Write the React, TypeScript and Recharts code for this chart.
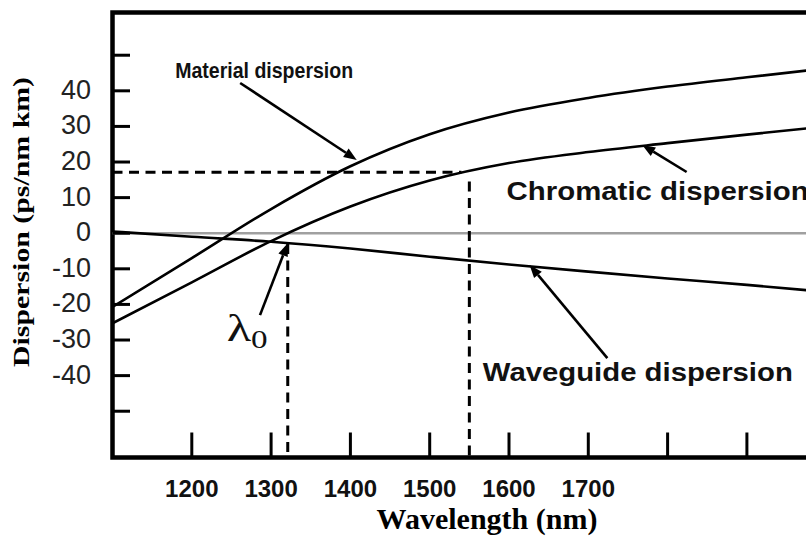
import React from "react";
import {
  LineChart,
  Line,
  XAxis,
  YAxis,
  ReferenceLine,
  ReferenceArea,
  ReferenceDot,
} from "recharts";

// values
const wavelengths = [1100, 1200, 1300, 1400, 1500, 1600, 1700, 1800, 1900, 2000];
const material = [-20.7, -7.0, 6.8, 18.8, 27.8, 33.9, 38.0, 41.2, 43.8, 46.3];
const chromatic = [-25.3, -13.8, -2.2, 7.5, 14.8, 19.7, 22.8, 25.3, 27.7, 30.0];
const waveguide = [0.5, -1.0, -2.4, -4.3, -6.6, -8.8, -10.8, -12.7, -14.5, -16.5];

const xTicks = [1200, 1300, 1400, 1500, 1600, 1700, 1800, 1900];
const xLabels = [1200, 1300, 1400, 1500, 1600, 1700];
const yTicks = [-50, -40, -30, -20, -10, 0, 10, 20, 30, 40, 50];
const yLabels = [-40, -30, -20, -10, 0, 10, 20, 30, 40];

const lambda0 = 1321;
const lambdaOp = 1550;
const dispOp = 17.1;

const data = wavelengths.map((wl, i) => ({
  wl,
  material: material[i],
  chromatic: chromatic[i],
  waveguide: waveguide[i],
}));

const SANS = "'Liberation Sans', Arial, sans-serif";
const SERIF = "'Liberation Serif', 'Times New Roman', serif";

// annotation text anchors and arrows, in data coordinates
const notes = [
  { text: "Material dispersion", at: [1179, 43.6], size: 21.5, len: 178, tail: [1261, 42.2], tip: [1408, 20.6] },
  { text: "Chromatic dispersion", at: [1597, 9.3], size: 25, len: 302, tail: [1824, 17.2], tip: [1768, 24.8] },
  { text: "Waveguide dispersion", at: [1567, -41.5], size: 25, len: 310, tail: [1724, -35.1], tip: [1626, -8.9] },
];
const lambdaNote = { at: [1244, -30.3], tail: [1286, -23], tip: [lambda0, -2.8] };

const XTick = (props: any) => {
  const { x, y, payload } = props;
  const v = payload.value;
  return (
    <g>
      <line x1={x} y1={y} x2={x} y2={y - 25} stroke="#000" strokeWidth={3} />
      {xLabels.includes(v) && (
        <text x={x} y={y + 39.5} textAnchor="middle" fontFamily={SANS} fontWeight="bold" fontSize={24} fill="#111">
          {v}
        </text>
      )}
    </g>
  );
};

const YTick = (props: any) => {
  const { x, y, payload } = props;
  const v = payload.value;
  return (
    <g>
      <line x1={x} y1={y} x2={x + 17.5} y2={y} stroke="#000" strokeWidth={3} />
      {yLabels.includes(v) && (
        <text x={x - 21.5} y={y + 8} textAnchor="end" fontFamily={SANS} fontSize={27} fill="#222">
          {v}
        </text>
      )}
    </g>
  );
};

const Arrow = (p: any) => {
  const { x1, y1, x2, y2 } = p;
  const a = Math.atan2(y2 - y1, x2 - x1);
  const L = 13;
  const W = 5;
  const bx = x2 - L * Math.cos(a);
  const by = y2 - L * Math.sin(a);
  const pts = `${x2},${y2} ${bx - W * Math.sin(a)},${by + W * Math.cos(a)} ${bx + W * Math.sin(a)},${by - W * Math.cos(a)}`;
  return (
    <g>
      <line x1={x1} y1={y1} x2={bx} y2={by} stroke="#000" strokeWidth={2.6} />
      <polygon points={pts} fill="#000" />
    </g>
  );
};

const noteText = (text: string, size: number, len: number) => (p: any) => (
  <text
    x={p.cx}
    y={p.cy}
    fontFamily={SANS}
    fontWeight="bold"
    fontSize={size}
    fill="#111"
    textLength={len}
    lengthAdjust="spacingAndGlyphs"
  >
    {text}
  </text>
);

const lambdaText = (p: any) => (
  <text x={p.cx} y={p.cy} fontFamily={SERIF} fontSize={38} fill="#111" textLength={41} lengthAdjust="spacingAndGlyphs">
    λ
    <tspan fontSize={25} dy={7}>
      0
    </tspan>
  </text>
);

const YTitle = () => {
  const cy = 222;
  const x = 29;
  return (
    <text
      x={x}
      y={cy}
      transform={`rotate(-90 ${x} ${cy})`}
      textAnchor="middle"
      fontFamily={SERIF}
      fontWeight="bold"
      fontSize={24}
      fill="#000"
      textLength={290}
      lengthAdjust="spacingAndGlyphs"
    >
      Dispersion (ps/nm km)
    </text>
  );
};

const XTitle = () => (
  <text x={487} y={529} textAnchor="middle" fontFamily={SERIF} fontWeight="bold" fontSize={30} fill="#000">
    Wavelength (nm)
  </text>
);

export default function App() {
  return (
    <div
      style={{
        position: "absolute",
        left: 0,
        top: 0,
        width: 806,
        height: 537,
        overflow: "hidden",
        background: "#fff",
      }}
    >
      <LineChart width={850} height={537} data={data} margin={{ top: 12.5, right: 23.8, left: 0, bottom: 0 }}>
        <XAxis
          dataKey="wl"
          type="number"
          domain={[1100, 2000]}
          allowDataOverflow
          ticks={xTicks}
          interval={0}
          tickSize={0}
          tickMargin={0}
          tickLine={false}
          axisLine={false}
          height={79.5}
          tick={<XTick />}
          label={<XTitle />}
        />
        <YAxis
          type="number"
          domain={[-63, 62]}
          allowDataOverflow
          ticks={yTicks}
          interval={0}
          tickSize={0}
          tickMargin={0}
          tickLine={false}
          axisLine={false}
          width={112.5}
          tick={<YTick />}
          label={<YTitle />}
        />
        <ReferenceLine y={0} stroke="#a0a0a0" strokeWidth={2.5} />
        <ReferenceLine
          segment={[{ x: 1100, y: dispOp }, { x: lambdaOp - 10, y: dispOp }]}
          stroke="#000"
          strokeWidth={3}
          strokeDasharray="10 6.5"
        />
        <ReferenceLine
          segment={[{ x: lambdaOp, y: 14.5 }, { x: lambdaOp, y: -63 }]}
          stroke="#000"
          strokeWidth={3}
          strokeDasharray="10 6.5"
        />
        <ReferenceLine
          segment={[{ x: lambda0, y: -3 }, { x: lambda0, y: -63 }]}
          stroke="#000"
          strokeWidth={3}
          strokeDasharray="10 6.5"
        />
        <Line type="monotone" dataKey="material" stroke="#000" strokeWidth={2.6} dot={false} activeDot={false} isAnimationActive={false} />
        <Line type="monotone" dataKey="chromatic" stroke="#000" strokeWidth={2.6} dot={false} activeDot={false} isAnimationActive={false} />
        <Line type="monotone" dataKey="waveguide" stroke="#000" strokeWidth={2.6} dot={false} activeDot={false} isAnimationActive={false} />
        {notes.map((n) => (
          <ReferenceLine
            key={n.text + "-arrow"}
            segment={[{ x: n.tail[0], y: n.tail[1] }, { x: n.tip[0], y: n.tip[1] }]}
            shape={Arrow}
          />
        ))}
        {notes.map((n) => (
          <ReferenceDot key={n.text} x={n.at[0]} y={n.at[1]} r={0} shape={noteText(n.text, n.size, n.len)} />
        ))}
        <ReferenceLine
          segment={[{ x: lambdaNote.tail[0], y: lambdaNote.tail[1] }, { x: lambdaNote.tip[0], y: lambdaNote.tip[1] }]}
          shape={Arrow}
        />
        <ReferenceDot x={lambdaNote.at[0]} y={lambdaNote.at[1]} r={0} shape={lambdaText} />
        <ReferenceArea x1={1100} x2={2000} y1={-63} y2={62} fill="none" stroke="#000" strokeWidth={4.5} fillOpacity={0} />
      </LineChart>
    </div>
  );
}
